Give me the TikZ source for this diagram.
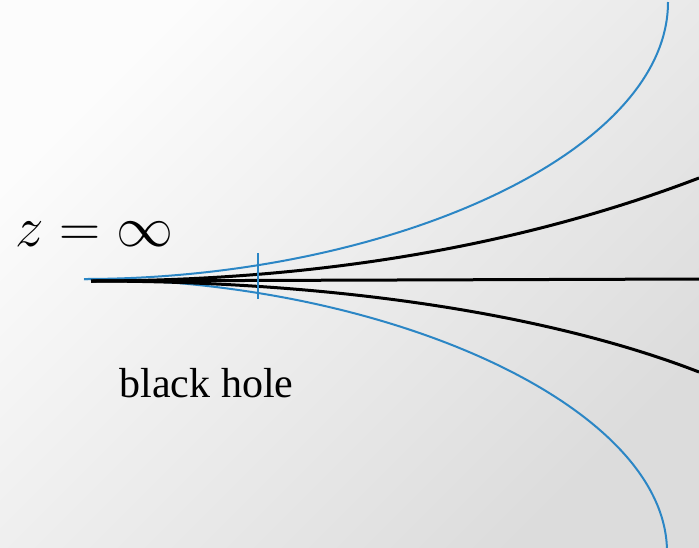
\documentclass[tikz,border=0pt]{standalone}
\usepackage{fix-cm}
\usepackage{fontspec}
\usepackage{tikz}
\newfontfamily\rotulofont{Liberation Serif}
\definecolor{cHoriz}{HTML}{2B86C5}
\definecolor{cFundoA}{HTML}{FCFCFC}
\definecolor{cFundoB}{HTML}{DCDCDC}

\begin{document}
\begin{tikzpicture}[
  x=1pt,y=-1pt,
  geo/.style={draw=black,line width=3pt},
  hor/.style={draw=cHoriz,line width=2pt},
  lbl/.style={inner sep=0pt,anchor=base}
]
% ---- fundo
\useasboundingbox (0,0) rectangle (699,547);
\shade[top color=cFundoA,bottom color=cFundoB,shading angle=45] (0,0) rectangle (699,547);
\clip (0,0) rectangle (699,547);

% ---- pontos
\coordinate (apex)  at (91,281);
\coordinate (hapex) at (84,279);
\coordinate (hcima) at (668,2);
\coordinate (hbaixo) at (667,552);
\coordinate (gcima) at (699,178);
\coordinate (gmeio) at (699,279);
\coordinate (gbaixo) at (699,372);
\coordinate (tickT) at (258,253);
\coordinate (tickB) at (258,299);

% ---- horizontes
\draw[hor] (hapex) .. controls (384,279) and (668,155) .. (hcima);
\draw[hor] (hapex) .. controls (384,279) and (667,405) .. (hbaixo);

% ---- geodesicas
\draw[geo] (apex) .. controls (350,281) and (550,235) .. (gcima);
\draw[geo] (apex) -- (gmeio);
\draw[geo] (apex) .. controls (350,281) and (560,318) .. (gbaixo);
\draw[hor] (tickT) -- (tickB);

% ---- rotulos
\node[lbl,font=\fontsize{57}{66}\selectfont] (zinf) at (94.5,246) {$z=\infty$};
\node[lbl,font=\rotulofont\fontsize{42}{50}\selectfont] (bhole) at (206.5,397) {black hole};
\end{tikzpicture}
\end{document}
